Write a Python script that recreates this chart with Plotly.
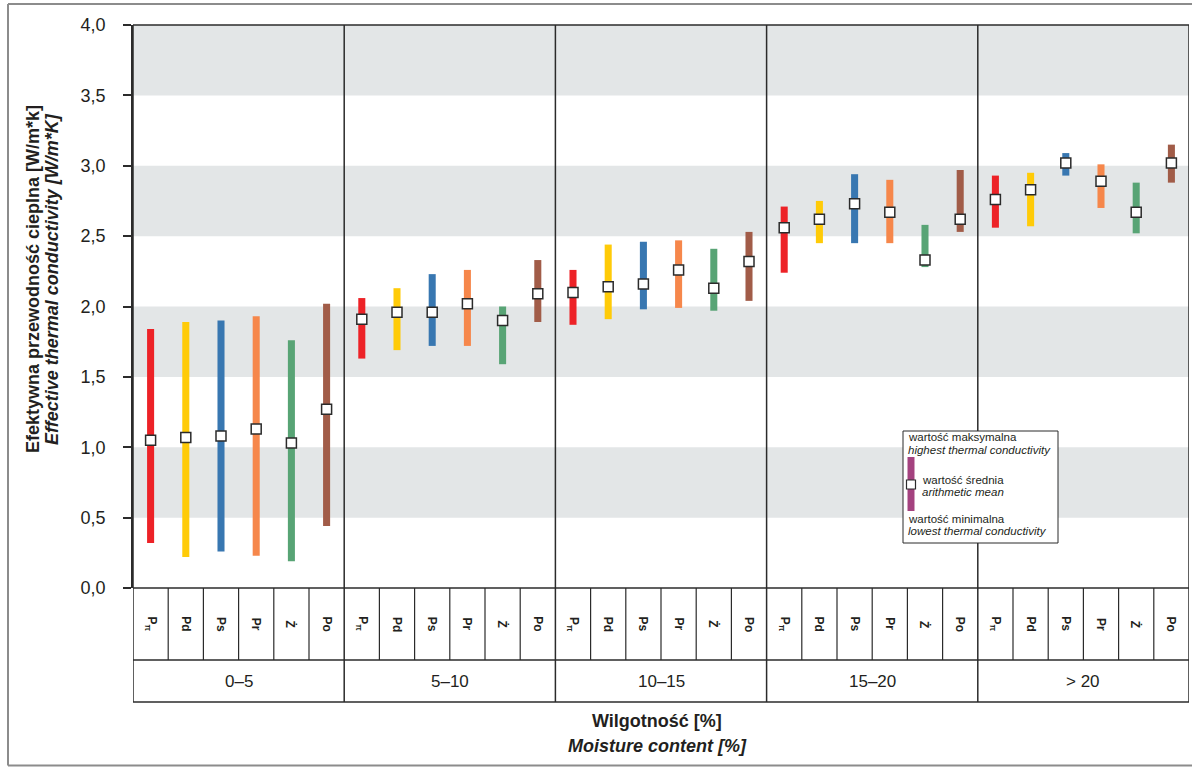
import plotly.graph_objects as go

# ---------------- data ----------------
groups = ["0–5", "5–10", "10–15", "15–20", "> 20"]
materials = ["P<sub>π</sub>", "Pd", "Ps", "Pr", "Ż", "Po"]

pi_min = [0.32, 1.63, 1.87, 2.24, 2.56]
pi_mean = [1.05, 1.91, 2.10, 2.56, 2.76]
pi_max = [1.84, 2.06, 2.26, 2.71, 2.93]

pd_min = [0.22, 1.69, 1.91, 2.45, 2.57]
pd_mean = [1.07, 1.96, 2.14, 2.62, 2.83]
pd_max = [1.89, 2.13, 2.44, 2.75, 2.95]

ps_min = [0.26, 1.72, 1.98, 2.45, 2.93]
ps_mean = [1.08, 1.96, 2.16, 2.73, 3.02]
ps_max = [1.90, 2.23, 2.46, 2.94, 3.09]

pr_min = [0.23, 1.72, 1.99, 2.45, 2.70]
pr_mean = [1.13, 2.02, 2.26, 2.67, 2.89]
pr_max = [1.93, 2.26, 2.47, 2.90, 3.01]

z_min = [0.19, 1.59, 1.97, 2.28, 2.52]
z_mean = [1.03, 1.90, 2.13, 2.33, 2.67]
z_max = [1.76, 2.00, 2.41, 2.58, 2.88]

po_min = [0.44, 1.89, 2.04, 2.53, 2.88]
po_mean = [1.27, 2.09, 2.32, 2.62, 3.02]
po_max = [2.02, 2.33, 2.53, 2.97, 3.15]

y_ticks = [0, 0.5, 1.0, 1.5, 2.0, 2.5, 3.0, 3.5, 4.0]

# ---------------- styling ----------------
colors = ["#ed2227", "#ffcb08", "#3877b1", "#f6874b", "#58a475", "#a15c48"]
mins = [pi_min, pd_min, ps_min, pr_min, z_min, po_min]
means = [pi_mean, pd_mean, ps_mean, pr_mean, z_mean, po_mean]
maxs = [pi_max, pd_max, ps_max, pr_max, z_max, po_max]

FONT = "Liberation Sans, Arial, Helvetica, sans-serif"
LINE = "#2b2b2b"
TXT = "#231f20"
W, H = 1192, 767
L, R, T, B = 133, 1189, 25, 588
NG, NM = len(groups), len(materials)
NX = NG * NM


def px(x):
    return (x - L) / (R - L)


def py(y):
    return (B - y) / (B - T)


fig = go.Figure()

# bars (min..max)
for k in range(NM):
    xs = [g * NM + k + 0.5 for g in range(NG)]
    heights = [mx - mn for mn, mx in zip(mins[k], maxs[k])]
    fig.add_trace(go.Bar(
        x=xs, y=heights, base=mins[k], width=0.2,
        marker=dict(color=colors[k], line=dict(width=0)),
        showlegend=False, hoverinfo="skip"))

# means
for k in range(NM):
    xs = [g * NM + k + 0.5 for g in range(NG)]
    fig.add_trace(go.Scatter(
        x=xs, y=means[k], mode="markers",
        marker=dict(symbol="square", size=10, color="white",
                    line=dict(color=LINE, width=1.5)),
        showlegend=False, hoverinfo="skip"))

shapes = []
# alternating grey bands
for i in range(len(y_ticks) - 1):
    if i % 2 == 1:
        shapes.append(dict(type="rect", xref="paper", yref="y", x0=0, x1=1,
                           y0=y_ticks[i], y1=y_ticks[i + 1],
                           fillcolor="#e3e6e7", line=dict(width=0), layer="below"))

lw = 1.5
row1 = py(660)
row2 = py(702)
# horizontal table lines + top border
for yy in [1, 0, row1, row2]:
    shapes.append(dict(type="line", xref="x", yref="paper", x0=0, x1=NX, y0=yy, y1=yy,
                       line=dict(color=LINE, width=lw), layer="above"))
# vertical lines
for i in range(NX + 1):
    if i % NM == 0:
        shapes.append(dict(type="line", xref="x", yref="paper", x0=i, x1=i, y0=row2, y1=1,
                           line=dict(color=LINE, width=lw), layer="above"))
    else:
        shapes.append(dict(type="line", xref="x", yref="paper", x0=i, x1=i, y0=row1, y1=0,
                           line=dict(color=LINE, width=lw * 0.8), layer="above"))

# outer frame
fcol = "#8c8c8c"
shapes.append(dict(type="line", xref="paper", yref="paper", x0=px(8), x1=px(1200),
                   y0=py(4), y1=py(4), line=dict(color=fcol, width=2), layer="above"))
shapes.append(dict(type="line", xref="paper", yref="paper", x0=px(8), x1=px(1200),
                   y0=py(765.5), y1=py(765.5), line=dict(color=fcol, width=2), layer="above"))
shapes.append(dict(type="line", xref="paper", yref="paper", x0=px(8), x1=px(8),
                   y0=py(4), y1=py(765.5), line=dict(color=fcol, width=2), layer="above"))

# legend box
shapes.append(dict(type="rect", xref="paper", yref="paper", x0=px(903), x1=px(1058),
                   y0=py(543), y1=py(431), fillcolor="white",
                   line=dict(color=LINE, width=1), layer="above"))
shapes.append(dict(type="rect", xref="paper", yref="paper", x0=px(907.5), x1=px(914.5),
                   y0=py(511), y1=py(457), fillcolor="#a4427f",
                   line=dict(width=0), layer="above"))
shapes.append(dict(type="rect", xref="paper", yref="paper", x0=px(906.5), x1=px(915.5),
                   y0=py(489), y1=py(480), fillcolor="white",
                   line=dict(color=LINE, width=1.2), layer="above"))

annotations = []
# category labels
for g in range(NG):
    for k in range(NM):
        annotations.append(dict(x=g * NM + k + 0.5, y=py(624), xref="x", yref="paper",
                                text="<b>" + materials[k] + "</b>", textangle=90,
                                showarrow=False, xanchor="center", yanchor="middle",
                                font=dict(family=FONT, size=12, color=TXT)))
    annotations.append(dict(x=g * NM + NM / 2, y=py(681), xref="x", yref="paper",
                            text=groups[g], showarrow=False, xanchor="center",
                            yanchor="middle",
                            font=dict(family=FONT, size=17, color=TXT)))

# axis titles
annotations.append(dict(x=px(33), y=py(279), xref="paper", yref="paper",
                        text="<b>Efektywna przewodność cieplna [W/m*k]</b>", textangle=-90,
                        showarrow=False, xanchor="center", yanchor="middle",
                        font=dict(family=FONT, size=18, color=TXT)))
annotations.append(dict(x=px(52), y=py(279), xref="paper", yref="paper",
                        text="<b><i>Effective thermal conductivity [W/m*K]</i></b>", textangle=-90,
                        showarrow=False, xanchor="center", yanchor="middle",
                        font=dict(family=FONT, size=18, color=TXT)))
annotations.append(dict(x=px(657), y=py(721), xref="paper", yref="paper",
                        text="<b>Wilgotność [%]</b>",
                        showarrow=False, xanchor="center", yanchor="middle",
                        font=dict(family=FONT, size=18, color=TXT)))
annotations.append(dict(x=px(657), y=py(746), xref="paper", yref="paper",
                        text="<b><i>Moisture content [%]</i></b>",
                        showarrow=False, xanchor="center", yanchor="middle",
                        font=dict(family=FONT, size=18, color=TXT)))

# legend texts
leg = [
    ("wartość maksymalna", 906, 437, False),
    ("highest thermal conductivity", 906, 450, True),
    ("wartość średnia", 920, 480, False),
    ("arithmetic mean", 920, 492, True),
    ("wartość minimalna", 906, 519, False),
    ("lowest thermal conductivity", 906, 531, True),
]
for txt, xx, yy, it in leg:
    annotations.append(dict(x=px(xx), y=py(yy), xref="paper", yref="paper",
                            text=("<i>" + txt + "</i>") if it else txt,
                            showarrow=False, xanchor="left", yanchor="middle",
                            font=dict(family=FONT, size=11.5, color=TXT)))

fig.update_layout(
    width=W, height=H, autosize=False,
    margin=dict(l=L, r=W - R, t=T, b=H - B, pad=0),
    paper_bgcolor="white", plot_bgcolor="white",
    barmode="overlay", separators=", ",
    showlegend=False,
    shapes=shapes, annotations=annotations,
    xaxis=dict(range=[0, NX], showticklabels=False, ticks="", showgrid=False,
               zeroline=False, showline=False, fixedrange=True),
    yaxis=dict(range=[0, 4], tickvals=y_ticks, tickformat=".1f", showgrid=False,
               zeroline=False, ticks="outside", ticklen=8, tickwidth=1.5,
               tickcolor=LINE, showline=True, linecolor=LINE, linewidth=1.5,
               ticklabelstandoff=14,
               tickfont=dict(family=FONT, size=18, color=TXT), fixedrange=True),
)

fig.write_html(
    "out.html",
    config={"displayModeBar": False},
    post_script="document.body.style.margin='0';document.body.style.overflow='hidden';",
)
